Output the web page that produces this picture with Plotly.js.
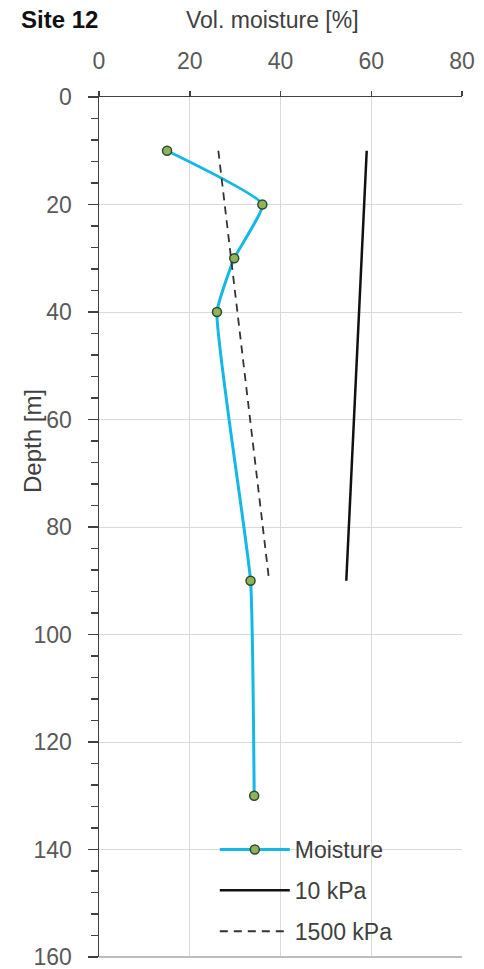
<!DOCTYPE html>
<html>
<head>
<meta charset="utf-8">
<script src="https://cdn.plot.ly/plotly-3.0.1.min.js"></script>
<style>
  html, body { margin: 0; padding: 0; background: #ffffff; }
  #chart { width: 484px; height: 969px; }
</style>
</head>
<body>
<div id="chart"></div>
<script>
// Measured soil profile at Site 12
const depthM = [10, 20, 30, 40, 90, 130];
const moisturePct = [15, 36, 29.8, 26, 33.4, 34.2];

// Water retention limits (field capacity and wilting point)
const kpa10Depth = [10, 90];
const kpa10Pct = [59, 54.5];
const kpa1500Depth = [10, 90];
const kpa1500Pct = [26.3, 37.5];

const xTickVals = [0, 20, 40, 60, 80];
const yTickVals = [0, 20, 40, 60, 80, 100, 120, 140, 160];

const FONT = '"Liberation Sans", Arial, sans-serif';
const AXIS = '#404040';
const GRID = '#d9d9d9';
const LABEL = '#595959';

const traces = [
  {
    x: moisturePct, y: depthM, name: 'Moisture', legendgroup: 'a',
    type: 'scatter', mode: 'lines+markers',
    line: { color: '#14b8e6', width: 3, shape: 'spline', smoothing: 0.4 },
    marker: { size: 9, color: '#8fb35a', line: { color: '#2f4a2a', width: 1.5 } }
  },
  {
    x: kpa10Pct, y: kpa10Depth, name: '10 kPa', legendgroup: 'b',
    type: 'scatter', mode: 'lines',
    line: { color: '#111111', width: 2.5 }
  },
  {
    x: kpa1500Pct, y: kpa1500Depth, name: '1500 kPa', legendgroup: 'c',
    type: 'scatter', mode: 'lines',
    line: { color: '#333333', width: 1.8, dash: '8px,6px' }
  }
];

const layout = {
  width: 484, height: 969,
  margin: { l: 99, r: 22, t: 97, b: 12 },
  paper_bgcolor: '#ffffff', plot_bgcolor: '#ffffff',
  font: { family: FONT, size: 23, color: LABEL },
  showlegend: true,
  legend: {
    x: 0.319, y: 0.150, xanchor: 'left', yanchor: 'top',
    bgcolor: 'rgba(0,0,0,0)', itemwidth: 70,
    traceorder: 'grouped', tracegroupgap: 8,
    font: { family: FONT, size: 23, color: '#404040' }
  },
  xaxis: {
    side: 'top', range: [0, 80], tickvals: xTickVals,
    showline: true, linecolor: AXIS, linewidth: 1.5,
    ticks: 'outside', ticklen: 5, tickcolor: AXIS, tickwidth: 1.5,
    showgrid: true, gridcolor: GRID, gridwidth: 1,
    zeroline: false, ticklabelstandoff: 12,
    tickfont: { family: FONT, size: 23, color: LABEL }
  },
  yaxis: {
    range: [160, 0], tickvals: yTickVals,
    showline: true, linecolor: AXIS, linewidth: 1.5,
    ticks: 'outside', ticklen: 10, tickcolor: AXIS, tickwidth: 1.5,
    minor: { dtick: 4, ticks: 'outside', ticklen: 7, tickcolor: AXIS, tickwidth: 1.5, showgrid: false },
    showgrid: true, gridcolor: GRID, gridwidth: 1,
    zeroline: false, ticklabelstandoff: 11, ticklabeloverflow: 'allow',
    tickfont: { family: FONT, size: 23, color: LABEL }
  },
  shapes: [
    // closing border along the bottom of the plot area
    { type: 'line', xref: 'paper', yref: 'paper', x0: 0, x1: 1, y0: 0, y1: 0,
      line: { color: '#bdbdbd', width: 2 } }
  ],
  annotations: [
    { text: '<b>Site 12</b>', xref: 'paper', yref: 'paper', x: -0.22, y: 1.0, yshift: 78,
      xanchor: 'left', yanchor: 'middle', showarrow: false,
      font: { family: FONT, size: 24, color: '#111111' } },
    { text: 'Vol. moisture [%]', xref: 'paper', yref: 'paper', x: 0.478, y: 1.0, yshift: 77,
      xanchor: 'center', yanchor: 'middle', showarrow: false,
      font: { family: FONT, size: 23, color: '#404040' } },
    { text: 'Depth [m]', xref: 'paper', yref: 'paper', x: 0, xshift: -67, y: 0.6,
      xanchor: 'center', yanchor: 'middle', textangle: -90, showarrow: false,
      font: { family: FONT, size: 24, color: '#404040' } }
  ]
};

Plotly.newPlot('chart', traces, layout, { displayModeBar: false, staticPlot: true });
</script>
</body>
</html>
